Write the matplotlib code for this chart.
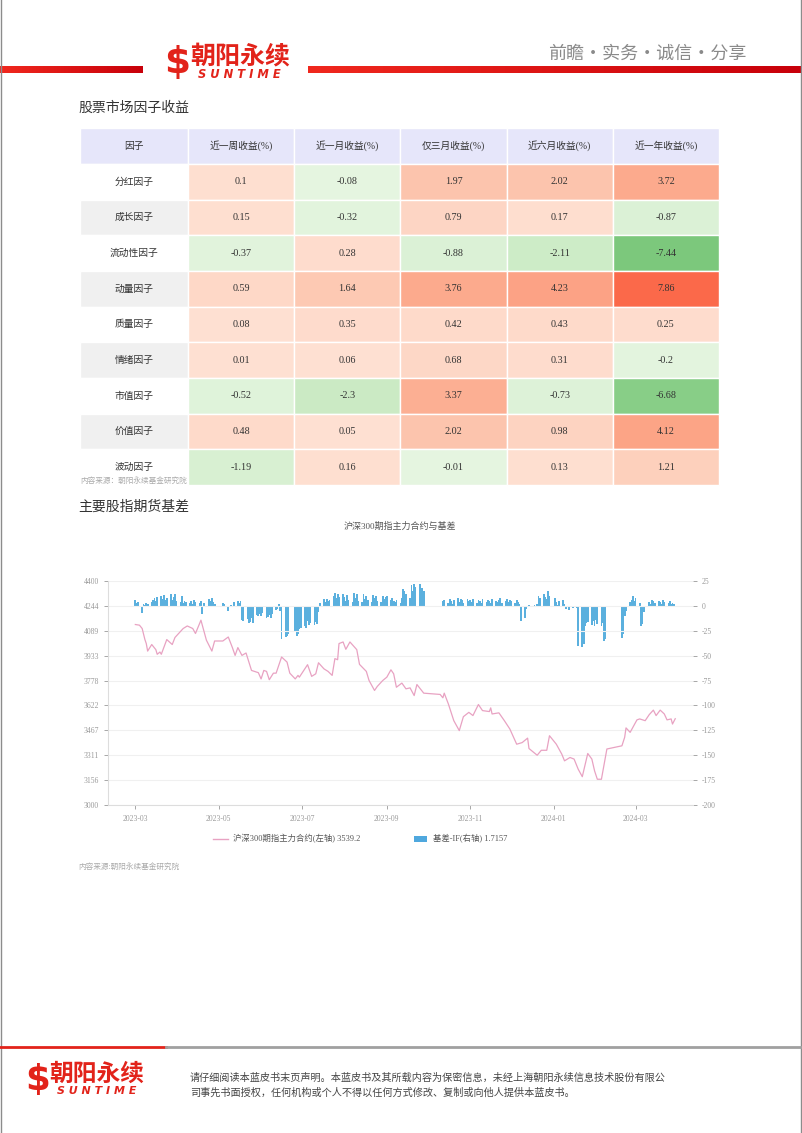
import numpy as np
import pandas as pd
import matplotlib
matplotlib.use('Agg')
import matplotlib.pyplot as plt
import matplotlib.dates as mdates
from matplotlib.patches import Rectangle
from matplotlib.lines import Line2D
from matplotlib.colors import LinearSegmentedColormap

plt.rcParams['font.family'] = ['Liberation Serif', 'Noto Sans CJK SC', 'DejaVu Sans']
plt.rcParams['axes.unicode_minus'] = False

# ---------------- 因子收益表 ----------------
headers = ['因子', '近一周收益(%)', '近一月收益(%)', '仅三月收益(%)', '近六月收益(%)', '近一年收益(%)']
factors = ['分红因子', '成长因子', '流动性因子', '动量因子', '质量因子', '情绪因子', '市值因子', '价值因子', '波动因子']
ret_1w = [0.1, 0.15, -0.37, 0.59, 0.08, 0.01, -0.52, 0.48, -1.19]
ret_1m = [-0.08, -0.32, 0.28, 1.64, 0.35, 0.06, -2.3, 0.05, 0.16]
ret_3m = [1.97, 0.79, -0.88, 3.76, 0.42, 0.68, 3.37, 2.02, -0.01]
ret_6m = [2.02, 0.17, -2.11, 4.23, 0.43, 0.31, -0.73, 0.98, 0.13]
ret_1y = [3.72, -0.87, -7.44, 7.86, 0.25, -0.2, -6.68, 4.12, 1.21]

# ---------------- 沪深300期指主力合约(左轴) ----------------
if_dates = ['2023-03-01', '2023-03-04', '2023-03-06', '2023-03-08', '2023-03-09', '2023-03-10',
            '2023-03-13', '2023-03-16', '2023-03-17', '2023-03-19', '2023-03-20', '2023-03-24',
            '2023-03-28', '2023-03-30', '2023-04-05', '2023-04-08', '2023-04-12', '2023-04-14',
            '2023-04-17', '2023-04-18', '2023-04-22', '2023-04-26', '2023-04-28', '2023-05-04',
            '2023-05-08', '2023-05-11', '2023-05-13', '2023-05-15', '2023-05-18', '2023-05-21',
            '2023-05-25', '2023-05-30', '2023-06-01', '2023-06-03', '2023-06-05', '2023-06-07',
            '2023-06-10', '2023-06-12', '2023-06-16', '2023-06-20', '2023-06-22', '2023-06-26',
            '2023-06-28', '2023-06-29', '2023-07-05', '2023-07-08', '2023-07-11', '2023-07-13',
            '2023-07-17', '2023-07-20', '2023-07-23', '2023-07-25', '2023-07-27', '2023-07-28',
            '2023-07-31', '2023-08-02', '2023-08-05', '2023-08-10', '2023-08-12', '2023-08-17',
            '2023-08-19', '2023-08-23', '2023-08-25', '2023-08-29', '2023-09-01', '2023-09-04',
            '2023-09-06', '2023-09-08', '2023-09-12', '2023-09-15', '2023-09-18', '2023-09-21',
            '2023-09-23', '2023-09-28', '2023-10-10', '2023-10-12', '2023-10-13', '2023-10-16',
            '2023-10-20', '2023-10-24', '2023-10-27', '2023-10-31', '2023-11-03', '2023-11-07',
            '2023-11-10', '2023-11-15', '2023-11-16', '2023-11-17', '2023-11-22', '2023-11-26',
            '2023-11-30', '2023-12-05', '2023-12-09', '2023-12-13', '2023-12-14', '2023-12-20',
            '2023-12-23', '2023-12-27', '2023-12-29', '2024-01-03', '2024-01-07', '2024-01-09',
            '2024-01-13', '2024-01-16', '2024-01-19', '2024-01-22', '2024-01-26', '2024-01-29',
            '2024-01-31', '2024-02-02', '2024-02-05', '2024-02-09', '2024-02-20', '2024-02-22',
            '2024-02-23', '2024-02-26', '2024-02-28', '2024-03-02', '2024-03-04', '2024-03-08',
            '2024-03-11', '2024-03-14', '2024-03-16', '2024-03-19', '2024-03-22', '2024-03-24',
            '2024-03-27', '2024-03-28', '2024-03-30']
if_close = [4128, 4124, 4103, 4034, 4009, 3962,
            4003, 3971, 3942, 3956, 3942, 4034,
            4003, 4047, 4103, 4119, 4103, 4072,
            4135, 4155, 4030, 3962, 4025, 4025,
            4050, 3984, 3935, 3984, 3935, 3950,
            3841, 3827, 3788, 3841, 3835, 3783,
            3824, 3824, 3925, 3893, 3824, 3788,
            3810, 3799, 3877, 3804, 3820, 3889,
            3851, 3835, 3810, 3915, 3908, 4009,
            4019, 3973, 4019, 3971, 3879, 3835,
            3778, 3716, 3741, 3778, 3799, 3845,
            3820, 3736, 3762, 3726, 3732, 3684,
            3753, 3699, 3691, 3670, 3699, 3632,
            3527, 3465, 3552, 3579, 3559, 3628,
            3590, 3584, 3607, 3569, 3576, 3527,
            3475, 3380, 3390, 3418, 3353, 3311,
            3342, 3342, 3433, 3380, 3318, 3276,
            3297, 3287, 3224, 3177, 3322, 3287,
            3213, 3161, 3161, 3350, 3370, 3423,
            3482, 3454, 3485, 3532, 3538, 3527,
            3565, 3593, 3559, 3593, 3569, 3532,
            3538, 3506, 3539.2]

# ---------------- 基差-IF(右轴)，按交易日 ----------------
basis_2023_03 = [6, 3, 4, -7, 2, 1, 3, 2, 4, 6, 8, 5, 9, 10, 7, 11, 6, 8, 12, 6, 9, 12, 5]
basis_2023_04 = [4, 10, 3, 5, 4, 3, 5, 2, 6, 4, 3, 5, -8, 3, 0, 7, 5, 8, 4, 2]
basis_2023_05 = [0, 0, 0, 3, 2, -5, 0, 1, 0, 4, 5, 3, 5, -14, -15, -13, -17, -16, -12, -17, -9, -10, -8]
basis_2023_06 = [-10, -7, -12, -11, -9, -12, -8, -4, -3, 2, -5, -33, -31, -30, -28, 0, 0, -25, -30, -28, -23, -22]
basis_2023_07 = [-20, -22, -15, -19, -17, -19, -16, -18, -6, 3, 7, 4, 7, 5, 6, 10, 13, 8, 12, 9, 12]
basis_2023_08 = [9, 5, 11, 6, 4, 13, 8, 12, 5, 4, 12, 7, 10, 6, 4, 11, 8, 10, 5, 4, 10, 7, 9]
basis_2023_09 = [10, 6, 8, 5, 4, 6, 3, 8, 17, 15, 12, 8, 21, 15, 22, 19, 22, 10, 18, 15, 0]
basis_2023_10 = [0, 0, 0, 0, 0, 0, 0, 0, 5, 6, 3, 7, 5, 2, 6, 8, 4, 7, 6, 3, 7, 5]
basis_2023_11 = [6, 4, 7, 3, 6, 5, 3, 7, 4, 6, 5, 3, 7, 5, 4, 6, 8, 3, 5, 7, 4, 6]
basis_2023_12 = [5, 3, 6, 4, 2, -15, -12, -3, 0, 1, -1, 1, 0, 2, 10, 8, 12, 9, 7, 15, 10]
basis_2024_01 = [0, 8, 4, 1, 5, 6, 2, -3, -1, -4, -2, 0, -1, -2, -40, -41, -38, -20, -17, -16, -19, -15, -20]
basis_2024_02 = [-14, -18, -20, -17, -35, -33, 0, 0, 0, 0, 0, 0, 0, -32, -28, -10, -5, 4, 6, 10, 5]
basis_2024_03 = [8, 3, -20, -18, -6, 0, 4, 2, 6, 5, 3, 5, 4, 2, 6, 4, 3, 5, 2, 3, 1.7157]

basis = (basis_2023_03 + basis_2023_04 + basis_2023_05 + basis_2023_06 + basis_2023_07 +
         basis_2023_08 + basis_2023_09 + basis_2023_10 + basis_2023_11 + basis_2023_12 +
         basis_2024_01 + basis_2024_02 + basis_2024_03)
basis_dates = pd.bdate_range('2023-03-01', '2024-03-29')

W, H = 802, 1133
fig = plt.figure(figsize=(W / 100, H / 100), dpi=100)
fig.patch.set_facecolor('white')

# 整页底层画布，按像素坐标排版
bg = fig.add_axes([0, 0, 1, 1])
bg.set_xlim(0, W)
bg.set_ylim(H, 0)
bg.axis('off')

RED = '#E2231A'
# 页面边框
bg.plot([0.8, 0.8], [0, H], color='#8c8c8c', lw=1)
bg.plot([W - 1, W - 1], [0, H], color='#8c8c8c', lw=1)

# 页眉红条（渐变）
grad = np.linspace(0, 1, 256).reshape(1, -1)
red_cmap = LinearSegmentedColormap.from_list('r', ['#F0281E', '#C8000A'])
bg.imshow(grad, extent=(0, 143, 73, 66), cmap=red_cmap, aspect='auto')
bg.imshow(grad, extent=(308, W - 1, 73, 66), cmap=red_cmap, aspect='auto')


def draw_logo(x, y, s=1.0):
    bg.text(x, y + 18 * s, '$', color=RED, fontsize=27 * s, fontweight='bold',
            family='DejaVu Sans', va='center', ha='left')
    bg.text(x + 26 * s, y + 11 * s, '朝阳永续', color=RED, fontsize=18 * s, fontweight='bold',
            family='Noto Sans CJK SC', va='center', ha='left')
    bg.text(x + 34 * s, y + 30 * s, 'S U N T I M E', color=RED, fontsize=8.3 * s, fontweight='bold',
            style='italic', family='DejaVu Sans', va='center', ha='left')


draw_logo(164, 45)
bg.text(548, 54, '前瞻·实务·诚信·分享', color='#8a8a8a', fontsize=13, family='Noto Sans CJK SC',
        va='center', ha='left')

# ---------------- 表格 ----------------
bg.text(78, 108, '股票市场因子收益', fontsize=10, color='#333333', va='center', ha='left')

cols = [ret_1w, ret_1m, ret_3m, ret_6m, ret_1y]
vmax = max(abs(v) for c in cols for v in c)


def cell_color(v):
    t = 0.125 + 0.375 * abs(v) / vmax
    return plt.cm.Reds(t) if v > 0 else plt.cm.Greens(t)


tab_x0, tab_y0 = 80, 128
col_w = [108] + [106.2] * 5
head_h, row_h = 36, 35.67
col_x = np.concatenate([[tab_x0], tab_x0 + np.cumsum(col_w)])

for j, h in enumerate(headers):
    bg.add_patch(Rectangle((col_x[j], tab_y0), col_w[j], head_h, facecolor='#E6E6FA',
                           edgecolor='white', lw=1))
    bg.text(col_x[j] + col_w[j] / 2, tab_y0 + head_h / 2, h, fontsize=7, color='#333333',
            ha='center', va='center')

for i, name in enumerate(factors):
    y = tab_y0 + head_h + i * row_h
    bg.add_patch(Rectangle((col_x[0], y), col_w[0], row_h,
                           facecolor='white' if i % 2 == 0 else '#F0F0F0', edgecolor='white', lw=1))
    bg.text(col_x[0] + col_w[0] / 2, y + row_h / 2, name, fontsize=7, color='#333333',
            ha='center', va='center')
    for j, c in enumerate(cols):
        v = c[i]
        bg.add_patch(Rectangle((col_x[j + 1], y), col_w[j + 1], row_h, facecolor=cell_color(v),
                               edgecolor='white', lw=1))
        bg.text(col_x[j + 1] + col_w[j + 1] / 2, y + row_h / 2, str(v), fontsize=7.3, color='#333333',
                ha='center', va='center')

bg.text(80, 481, '内容来源：朝阳永续基金研究院', fontsize=5.5, color='#aaaaaa', va='center', ha='left')

# ---------------- 基差图 ----------------
bg.text(78, 507, '主要股指期货基差', fontsize=10, color='#333333', va='center', ha='left')
bg.text(400, 526, '沪深300期指主力合约与基差', fontsize=6.5, color='#555555', va='center', ha='center')

ax = fig.add_axes([108 / W, 1 - 805 / H, 585 / W, 224 / H])
ax2 = ax.twinx()

ax2.bar(basis_dates, basis, width=1.3, color='#5BB0DE', linewidth=0)
ax.plot(pd.to_datetime(if_dates), if_close, color='#E8A2C2', lw=0.9)

ax.set_zorder(ax2.get_zorder() + 1)
ax.patch.set_visible(False)

ax.set_xlim(pd.Timestamp('2023-02-09'), pd.Timestamp('2024-04-12'))
left_ticks = np.linspace(3000, 4400, 10)
ax.set_ylim(3000, 4400)
ax.set_yticks(left_ticks)
ax.set_yticklabels([f'{t:.0f}' for t in left_ticks])
ax2.set_ylim(-200, 25)
ax2.set_yticks(np.arange(-200, 26, 25))

ax.xaxis.set_major_locator(mdates.MonthLocator(bymonth=[1, 3, 5, 7, 9, 11]))
ax.xaxis.set_major_formatter(mdates.DateFormatter('%Y-%m'))

ax.grid(axis='y', color='#f0f0f0', lw=0.8)
ax.set_axisbelow(True)
for a in (ax, ax2):
    for sp in ('top', 'right'):
        a.spines[sp].set_visible(False)
    a.tick_params(labelsize=5.5, colors='#999999', length=3, width=0.6)
ax2.spines['left'].set_visible(False)
ax2.spines['bottom'].set_visible(False)
ax.spines['left'].set_color('#dddddd')
ax.spines['bottom'].set_color('#dddddd')
ax.tick_params(axis='x', pad=4)

# 图例
bg.add_line(Line2D([213, 228], [839, 839], color='#E8A2C2', lw=1))
bg.text(233, 839, f'沪深300期指主力合约(左轴) {if_close[-1]}', fontsize=6, color='#555555',
        va='center', ha='left')
bg.add_patch(Rectangle((414, 836), 13, 6, facecolor='#4FA8DE', edgecolor='none'))
bg.text(433, 839, f'基差-IF(右轴) {basis[-1]}', fontsize=6, color='#555555', va='center', ha='left')

bg.text(78, 867, '内容来源:朝阳永续基金研究院', fontsize=5.5, color='#aaaaaa', va='center', ha='left')

# ---------------- 页脚 ----------------
bg.plot([0, 166], [1047, 1047], color=RED, lw=2)
bg.plot([166, W - 1], [1047, 1047], color='#a0a0a0', lw=2)
draw_logo(25, 1063, 0.95)
bg.text(190, 1078, '请仔细阅读本蓝皮书末页声明。本蓝皮书及其所载内容为保密信息，未经上海朝阳永续信息技术股份有限公',
        fontsize=7.3, color='#444444', va='center', ha='left')
bg.text(190, 1093, '司事先书面授权，任何机构或个人不得以任何方式修改、复制或向他人提供本蓝皮书。',
        fontsize=7.3, color='#444444', va='center', ha='left')

fig.savefig('out.png', dpi=100, facecolor='white')
